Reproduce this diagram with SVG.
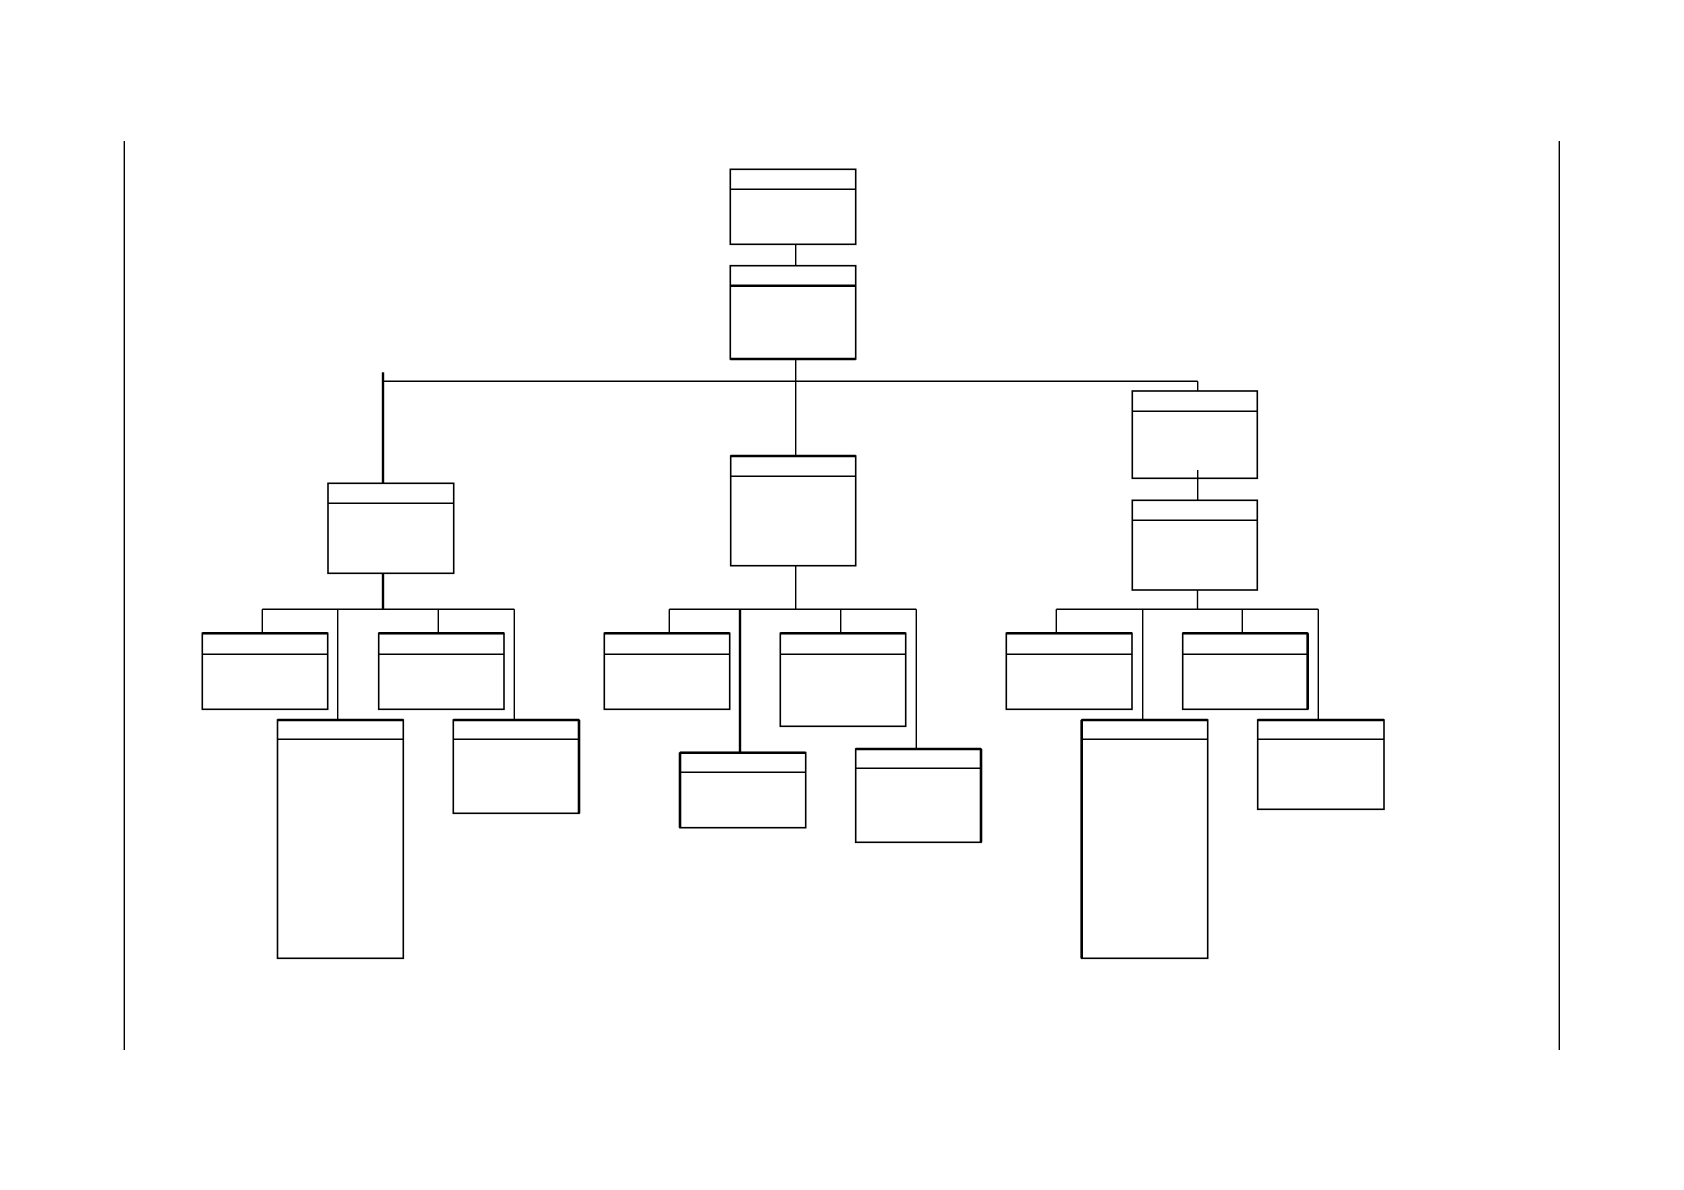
<svg xmlns="http://www.w3.org/2000/svg" width="1684" height="1190" viewBox="0 0 1684 1190">
<style>
.box{fill:#fff;stroke:#000;stroke-width:1.6}
.hdr{stroke:#000;stroke-width:1.4}
.thk{stroke:#000;stroke-width:2.6}
.ln{stroke:#000;stroke-width:1.4;fill:none}
.tl{stroke:#000;stroke-width:2.4;fill:none}
.border{stroke:#000;stroke-width:1.4}
</style>
<rect width="1684" height="1190" fill="#fff"/>
<g id="page-frame">
<line class="border" x1="124.3" y1="141" x2="124.3" y2="1050"/>
<line class="border" x1="1559.3" y1="141" x2="1559.3" y2="1050"/>
</g>
<g id="n-top">
<rect class="box" x="730.3" y="169.3" width="125.4" height="75"/>
<line class="hdr" x1="730.3" y1="189.3" x2="855.7" y2="189.3"/>
</g>
<g id="n-second">
<rect class="box" x="730.3" y="265.7" width="125.4" height="93.3"/>
<line class="thk" x1="730.3" y1="285.7" x2="855.7" y2="285.7"/>
<line class="thk" x1="730.3" y1="359" x2="855.7" y2="359"/>
</g>
<g id="n-left">
<rect class="box" x="328" y="483.3" width="125.7" height="90"/>
<line class="hdr" x1="328" y1="503.3" x2="453.7" y2="503.3"/>
</g>
<g id="n-center">
<rect class="box" x="730.7" y="456" width="125" height="109.7"/>
<line class="thk" x1="730.7" y1="456" x2="855.7" y2="456"/>
<line class="hdr" x1="730.7" y1="476.3" x2="855.7" y2="476.3"/>
</g>
<g id="n-right-a">
<rect class="box" x="1132.3" y="391" width="125" height="87.3"/>
<line class="hdr" x1="1132.3" y1="411.3" x2="1257.3" y2="411.3"/>
</g>
<g id="n-right-b">
<rect class="box" x="1132.3" y="500.3" width="125" height="89.7"/>
<line class="hdr" x1="1132.3" y1="520.3" x2="1257.3" y2="520.3"/>
</g>
<g id="n-l1">
<rect class="box" x="202.3" y="633.3" width="125.4" height="76"/>
<line class="thk" x1="202.3" y1="633.3" x2="327.7" y2="633.3"/>
<line class="hdr" x1="202.3" y1="654.3" x2="327.7" y2="654.3"/>
</g>
<g id="n-l2">
<rect class="box" x="378.7" y="633.3" width="125.3" height="76"/>
<line class="thk" x1="378.7" y1="633.3" x2="504" y2="633.3"/>
<line class="hdr" x1="378.7" y1="654.3" x2="504" y2="654.3"/>
</g>
<g id="n-l3">
<rect class="box" x="277.5" y="720" width="125.8" height="238.3"/>
<line class="thk" x1="277.5" y1="720" x2="403.3" y2="720"/>
<line class="hdr" x1="277.5" y1="739.3" x2="403.3" y2="739.3"/>
</g>
<g id="n-l4">
<rect class="box" x="453.3" y="720" width="125.7" height="93.3"/>
<line class="thk" x1="453.3" y1="720" x2="579" y2="720"/>
<line class="thk" x1="579" y1="720" x2="579" y2="813.3"/>
<line class="hdr" x1="453.3" y1="739.3" x2="579" y2="739.3"/>
</g>
<g id="n-m1">
<rect class="box" x="604.3" y="633.3" width="125.4" height="76"/>
<line class="thk" x1="604.3" y1="633.3" x2="729.7" y2="633.3"/>
<line class="hdr" x1="604.3" y1="654.3" x2="729.7" y2="654.3"/>
</g>
<g id="n-m2">
<rect class="box" x="780.3" y="633.3" width="125.4" height="93"/>
<line class="thk" x1="780.3" y1="633.3" x2="905.7" y2="633.3"/>
<line class="hdr" x1="780.3" y1="654.3" x2="905.7" y2="654.3"/>
</g>
<g id="n-m3">
<rect class="box" x="680" y="752.7" width="125.7" height="75"/>
<line class="thk" x1="680" y1="752.7" x2="805.7" y2="752.7"/>
<line class="thk" x1="680" y1="752.7" x2="680" y2="827.7"/>
<line class="hdr" x1="680" y1="772.3" x2="805.7" y2="772.3"/>
</g>
<g id="n-m4">
<rect class="box" x="855.7" y="749" width="125.3" height="93.3"/>
<line class="thk" x1="855.7" y1="749" x2="981" y2="749"/>
<line class="thk" x1="981" y1="749" x2="981" y2="842.3"/>
<line class="hdr" x1="855.7" y1="768.3" x2="981" y2="768.3"/>
</g>
<g id="n-r1">
<rect class="box" x="1006.3" y="633.3" width="125.7" height="76"/>
<line class="thk" x1="1006.3" y1="633.3" x2="1132" y2="633.3"/>
<line class="hdr" x1="1006.3" y1="654.3" x2="1132" y2="654.3"/>
</g>
<g id="n-r2">
<rect class="box" x="1182.7" y="633.3" width="125" height="76"/>
<line class="thk" x1="1182.7" y1="633.3" x2="1307.7" y2="633.3"/>
<line class="thk" x1="1307.7" y1="633.3" x2="1307.7" y2="709.3"/>
<line class="hdr" x1="1182.7" y1="654.3" x2="1307.7" y2="654.3"/>
</g>
<g id="n-r3">
<rect class="box" x="1081.7" y="720" width="126" height="238.3"/>
<line class="thk" x1="1081.7" y1="720" x2="1207.7" y2="720"/>
<line class="thk" x1="1081.7" y1="720" x2="1081.7" y2="958.3"/>
<line class="hdr" x1="1081.7" y1="739.3" x2="1207.7" y2="739.3"/>
</g>
<g id="n-r4">
<rect class="box" x="1257.7" y="720" width="126.3" height="89.3"/>
<line class="thk" x1="1257.7" y1="720" x2="1384" y2="720"/>
<line class="hdr" x1="1257.7" y1="739.3" x2="1384" y2="739.3"/>
</g>
<g id="connectors">
<line class="ln" x1="795.7" y1="244.3" x2="795.7" y2="265.7"/>
<line class="ln" x1="795.7" y1="359" x2="795.7" y2="456"/>
<line class="ln" x1="383" y1="381.3" x2="1197.7" y2="381.3"/>
<line class="tl" x1="383" y1="372.3" x2="383" y2="483.3"/>
<line class="ln" x1="1197.7" y1="381.3" x2="1197.7" y2="391"/>
<line class="ln" x1="1197.7" y1="470" x2="1197.7" y2="500.3"/>
<line class="tl" x1="383" y1="573.3" x2="383" y2="609.3"/>
<line class="ln" x1="795.7" y1="565.7" x2="795.7" y2="609.3"/>
<line class="ln" x1="1197.5" y1="590" x2="1197.5" y2="609.3"/>
<line class="ln" x1="262.3" y1="609.3" x2="514.3" y2="609.3"/>
<line class="ln" x1="262.3" y1="609.3" x2="262.3" y2="633.3"/>
<line class="ln" x1="337.7" y1="609.3" x2="337.7" y2="720"/>
<line class="ln" x1="438.3" y1="609.3" x2="438.3" y2="633.3"/>
<line class="ln" x1="514.3" y1="609.3" x2="514.3" y2="720"/>
<line class="ln" x1="669.3" y1="609.3" x2="916.3" y2="609.3"/>
<line class="ln" x1="669.3" y1="609.3" x2="669.3" y2="633.3"/>
<line class="tl" x1="740" y1="609.3" x2="740" y2="752.7"/>
<line class="ln" x1="840.7" y1="609.3" x2="840.7" y2="633.3"/>
<line class="ln" x1="916.3" y1="609.3" x2="916.3" y2="749"/>
<line class="ln" x1="1056.3" y1="609.3" x2="1318.3" y2="609.3"/>
<line class="ln" x1="1056.3" y1="609.3" x2="1056.3" y2="633.3"/>
<line class="ln" x1="1142.7" y1="609.3" x2="1142.7" y2="720"/>
<line class="ln" x1="1242.3" y1="609.3" x2="1242.3" y2="633.3"/>
<line class="ln" x1="1318.3" y1="609.3" x2="1318.3" y2="720"/>
</g>
</svg>
